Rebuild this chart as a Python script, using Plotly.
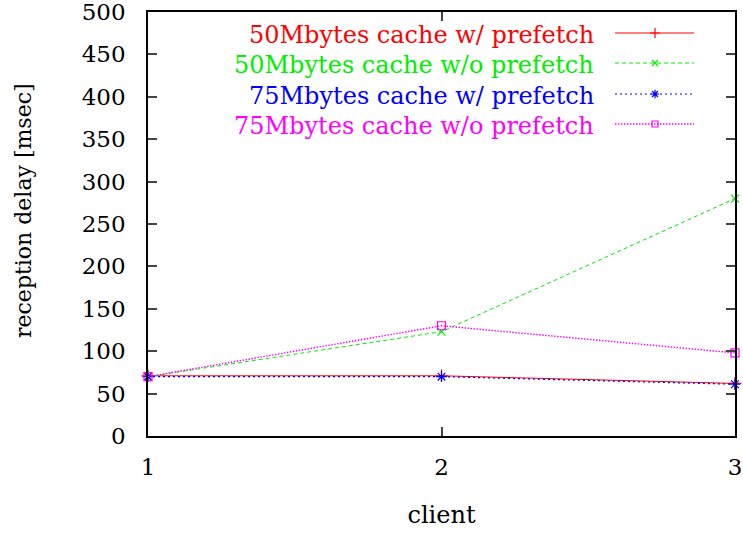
import plotly.graph_objects as go

clients = [1, 2, 3]
names = ["50Mbytes cache w/ prefetch", "50Mbytes cache w/o prefetch",
         "75Mbytes cache w/ prefetch", "75Mbytes cache w/o prefetch"]
s50_pref = [71, 71, 62]
s50_nopref = [70, 123, 280]
s75_pref = [70, 70, 61]
s75_nopref = [70, 130, 98]
y_ticks = [0, 50, 100, 150, 200, 250, 300, 350, 400, 450, 500]
x_ticks = [1, 2, 3]

series = [s50_pref, s50_nopref, s75_pref, s75_nopref]
colors = ["#ff0000", "#00ee00", "#0000ff", "#ff00ff"]
dashes = ["solid", "4px,3px", "2px,3px", "1.5px,1.5px"]
lwidths = [1, 1, 1.2, 1.4]
symbols = ["cross-thin-open", "x-thin-open", "asterisk-open", "square-open"]
msizes = [9, 8, 9, 8]

W, H = 743, 536
L, R, T, B = 148, 8, 12, 100

FONT = "DejaVu Serif"

fig = go.Figure()
for s, n, c, d, lw, sym, ms in zip(series, names, colors, dashes, lwidths, symbols, msizes):
    fig.add_trace(go.Scatter(x=clients, y=s, mode="lines+markers", name=n,
                             line=dict(color=c, width=lw, dash=d),
                             marker=dict(symbol=sym, size=ms, color=c,
                                         line=dict(color=c, width=1.2)),
                             showlegend=False, cliponaxis=False))

pw = W - L - R
ph = H - T - B
def px(x):
    return (x - L) / pw
def py(y):
    return 1 - (y - T) / ph

# manual legend (gnuplot style: text on left, sample on right)
rows = [35, 65, 96, 126]
for n, c, d, lw, sym, ms, yy in zip(names, colors, dashes, lwidths, symbols, msizes, rows):
    fig.add_annotation(x=px(596), y=py(yy), xref="paper", yref="paper",
                       text=n, showarrow=False, xanchor="right", yanchor="middle",
                       font=dict(family=FONT, size=24, color=c))
    fig.add_trace(go.Scatter(x=[px(615), px(655), px(694)], y=[py(yy - 2)] * 3,
                             xaxis="x2", yaxis="y2", mode="lines",
                             line=dict(color=c, width=lw, dash=d),
                             showlegend=False, hoverinfo="skip"))
    fig.add_trace(go.Scatter(x=[px(655)], y=[py(yy - 2)],
                             xaxis="x2", yaxis="y2", mode="markers",
                             marker=dict(symbol=sym, size=ms - 2, color=c,
                                         line=dict(color=c, width=1.2)),
                             showlegend=False, hoverinfo="skip"))

# y axis title (gnuplot places it slightly above the centre)
fig.add_annotation(x=px(23), y=py(211), xref="paper", yref="paper",
                   text="reception delay [msec]", textangle=-90, showarrow=False,
                   xanchor="center", yanchor="middle",
                   font=dict(family=FONT, size=22, color="black"))

axis_common = dict(showgrid=False, zeroline=False, showline=True, mirror="ticks",
                   linecolor="black", linewidth=1.5, ticks="inside", ticklen=9,
                   tickcolor="#444", tickwidth=1.5, ticklabeloverflow="allow",
                   automargin=False,
                   tickfont=dict(family=FONT, size=23, color="black"))

fig.update_layout(
    width=W, height=H,
    margin=dict(l=L, r=R, t=T, b=B),
    paper_bgcolor="white", plot_bgcolor="white",
    xaxis=dict(range=[1, 3], tickvals=x_ticks, ticktext=[str(v) for v in x_ticks],
               title=dict(text="client", font=dict(family=FONT, size=24, color="black"),
                          standoff=27),
               ticklabelstandoff=10,
               **axis_common),
    yaxis=dict(range=[0, 500], tickvals=y_ticks, ticktext=[str(v) for v in y_ticks],
               ticklabelstandoff=16,
               **axis_common),
    xaxis2=dict(range=[0, 1], overlaying="x", visible=False, fixedrange=True),
    yaxis2=dict(range=[0, 1], overlaying="y", visible=False, fixedrange=True),
    showlegend=False,
)

fig.write_html("out.html")
